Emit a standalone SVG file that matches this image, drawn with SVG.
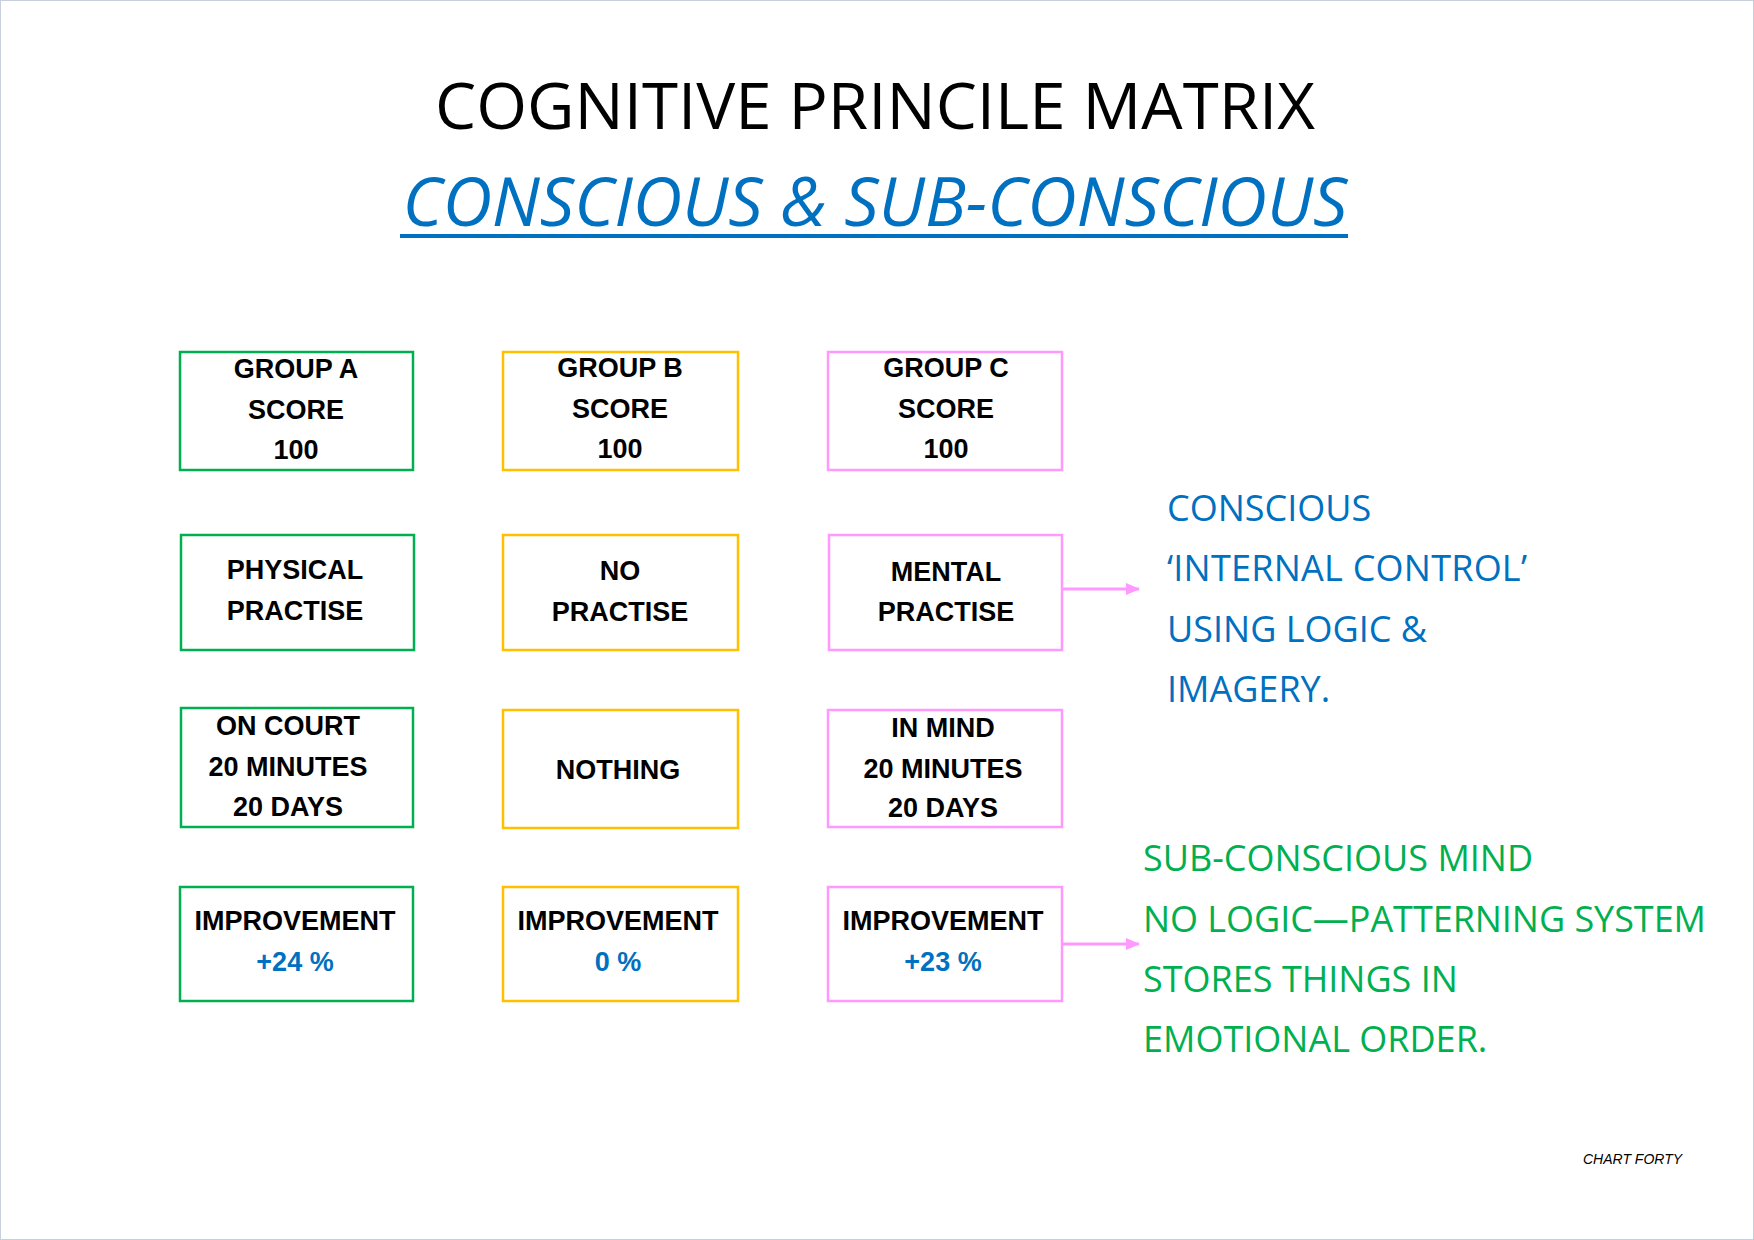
<svg xmlns="http://www.w3.org/2000/svg" width="1754" height="1240" viewBox="0 0 1754 1240">
<style>
.b{fill:#fff;stroke-width:2.5}
.a{stroke:#00B050}.o{stroke:#FFC000}.p{stroke:#FF99FF}
.t{font-family:"Liberation Sans",Arial,sans-serif;font-weight:bold;font-size:27px;text-anchor:middle;fill:#000}
.bl{fill:#0070C0}
.r{font-family:"Open Sans","Liberation Sans",sans-serif;font-size:36px}
</style>
<defs><marker id="ar" markerWidth="14" markerHeight="12" refX="13" refY="6" orient="auto" markerUnits="userSpaceOnUse"><path d="M0,0L14,6L0,12z" fill="#FF99FF"/></marker></defs>
<rect x="0.5" y="0.5" width="1753" height="1239" fill="#fff" stroke="#c8d0dc"/>
<text x="875" y="129" font-family="'Open Sans','Liberation Sans',sans-serif" font-size="64" text-anchor="middle" textLength="880" lengthAdjust="spacingAndGlyphs">COGNITIVE PRINCILE MATRIX</text>
<text x="875" y="226" font-family="'Open Sans','Liberation Sans',sans-serif" font-style="italic" font-size="68" text-anchor="middle" fill="#0070C0" textLength="945" lengthAdjust="spacingAndGlyphs">CONSCIOUS &amp; SUB-CONSCIOUS</text>
<line x1="400" y1="236" x2="1348" y2="236" stroke="#0070C0" stroke-width="4"/>
<g id="a1"><rect class="b a" x="180" y="352" width="233" height="118"/><text class="t" x="296" y="378">GROUP A</text><text class="t" x="296" y="419">SCORE</text><text class="t" x="296" y="459">100</text></g>
<g id="b1"><rect class="b o" x="503" y="352" width="235" height="118"/><text class="t" x="620" y="377">GROUP B</text><text class="t" x="620" y="418">SCORE</text><text class="t" x="620" y="458">100</text></g>
<g id="c1"><rect class="b p" x="828" y="352" width="234" height="118"/><text class="t" x="946" y="377">GROUP C</text><text class="t" x="946" y="418">SCORE</text><text class="t" x="946" y="458">100</text></g>
<g id="a2"><rect class="b a" x="181" y="535" width="233" height="115"/><text class="t" x="295" y="579">PHYSICAL</text><text class="t" x="295" y="620">PRACTISE</text></g>
<g id="b2"><rect class="b o" x="503" y="535" width="235" height="115"/><text class="t" x="620" y="580">NO</text><text class="t" x="620" y="621">PRACTISE</text></g>
<g id="c2"><rect class="b p" x="829" y="535" width="233" height="115"/><text class="t" x="946" y="581">MENTAL</text><text class="t" x="946" y="621">PRACTISE</text></g>
<g id="a3"><rect class="b a" x="181" y="708" width="232" height="119"/><text class="t" x="288" y="735">ON COURT</text><text class="t" x="288" y="776">20 MINUTES</text><text class="t" x="288" y="816">20 DAYS</text></g>
<g id="b3"><rect class="b o" x="503" y="710" width="235" height="118"/><text class="t" x="618" y="779">NOTHING</text></g>
<g id="c3"><rect class="b p" x="828" y="710" width="234" height="117"/><text class="t" x="943" y="737">IN MIND</text><text class="t" x="943" y="778">20 MINUTES</text><text class="t" x="943" y="817">20 DAYS</text></g>
<g id="a4"><rect class="b a" x="180" y="887" width="233" height="114"/><text class="t" x="295" y="930">IMPROVEMENT</text><text class="t bl" x="295" y="971">+24 %</text></g>
<g id="b4"><rect class="b o" x="503" y="887" width="235" height="114"/><text class="t" x="618" y="930">IMPROVEMENT</text><text class="t bl" x="618" y="971">0 %</text></g>
<g id="c4"><rect class="b p" x="828" y="887" width="234" height="114"/><text class="t" x="943" y="930">IMPROVEMENT</text><text class="t bl" x="943" y="971">+23 %</text></g>
<g id="connectors" stroke="#FF99FF" stroke-width="3">
<line x1="1062" y1="589" x2="1139" y2="589" marker-end="url(#ar)"/>
<line x1="1062" y1="944" x2="1139" y2="944" marker-end="url(#ar)"/>
</g>
<g id="conscious" class="r" fill="#0070C0">
<text x="1167" y="521">CONSCIOUS</text>
<text x="1167" y="581" textLength="360">‘INTERNAL CONTROL’</text>
<text x="1167" y="642">USING LOGIC &amp;</text>
<text x="1167" y="702">IMAGERY.</text>
</g>
<g id="subconscious" class="r" fill="#00B050">
<text x="1143" y="871">SUB-CONSCIOUS MIND</text>
<text x="1143" y="932" textLength="563">NO LOGIC—PATTERNING SYSTEM</text>
<text x="1143" y="992">STORES THINGS IN</text>
<text x="1143" y="1052">EMOTIONAL ORDER.</text>
</g>
<text x="1583" y="1164" font-family="'Liberation Sans',Arial,sans-serif" font-style="italic" font-size="14">CHART FORTY</text>
</svg>
